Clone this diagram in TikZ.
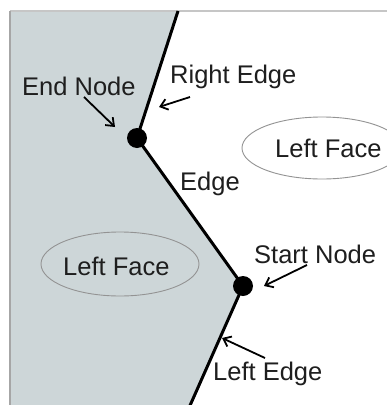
\documentclass[tikz,border=0pt]{standalone}
\usepackage{fontspec}
\setmainfont{Liberation Sans}
\usetikzlibrary{arrows.meta}
\definecolor{facefill}{RGB}{205,214,216}
\definecolor{txt}{RGB}{30,30,30}
\tikzset{
  lbl/.style={anchor=base west,inner sep=0pt,text=txt,font=\fontsize{25.5}{30}\selectfont},
  dot/.style={circle,fill=black,minimum size=20pt,inner sep=0pt},
  edgeline/.style={line width=3pt,black},
  pointer/.style={line width=1.8pt,-{Straight Barb[length=7pt,width=11pt]}},
  face/.style={ellipse,draw=gray!85,line width=0.9pt}
}
\begin{document}
\begin{tikzpicture}[x=1pt,y=-1pt]
\useasboundingbox (0,0) rectangle (387,405);
\clip (0,0) rectangle (387,405);
\fill[white] (0,0) rectangle (387,405);
% shaded region
\fill[facefill] (10,11) -- (178,11) -- (137,138) -- (243,286) -- (189.8,406) -- (10,406) -- cycle;
% frame
\draw[line width=2pt,gray!45] (10,11) -- (388,11);
\draw[line width=2pt,gray!70] (10,11) -- (10,406);
% face ellipses
\draw[gray!85,line width=0.9pt] (322,148) ellipse (80 and 31);
\draw[gray!85,line width=0.9pt] (120,264) ellipse (79 and 32);
% nodes
\coordinate (top) at (178,11);
\coordinate (bot) at (189.8,406);
\node[dot] (end) at (137,138) {};
\node[dot] (start) at (243,286) {};
\draw[edgeline] (top) -- (end.center) -- (start.center) -- (bot);
% labels
\node[lbl] (lend) at (22,95) {End Node};
\node[lbl] (lright) at (170,83) {Right Edge};
\node[lbl] (ledge) at (180,190) {Edge};
\node[lbl] (lstart) at (254,263) {Start Node};
\node[lbl] (lleft) at (213,380) {Left Edge};
\node[lbl] (fr) at (275,157) {Left Face};
\node[lbl] (fl) at (63,275) {Left Face};
% pointers
\coordinate (a1s) at (84,97);   \coordinate (a1e) at (115,127);
\coordinate (a2s) at (190,97);  \coordinate (a2e) at (159,107);
\coordinate (a3s) at (307,265); \coordinate (a3e) at (264,286);
\coordinate (a4s) at (265,358); \coordinate (a4e) at (222,338);
\draw[pointer] (a1s) -- (a1e);
\draw[pointer] (a2s) -- (a2e);
\draw[pointer] (a3s) -- (a3e);
\draw[pointer] (a4s) -- (a4e);
\end{tikzpicture}
\end{document}
